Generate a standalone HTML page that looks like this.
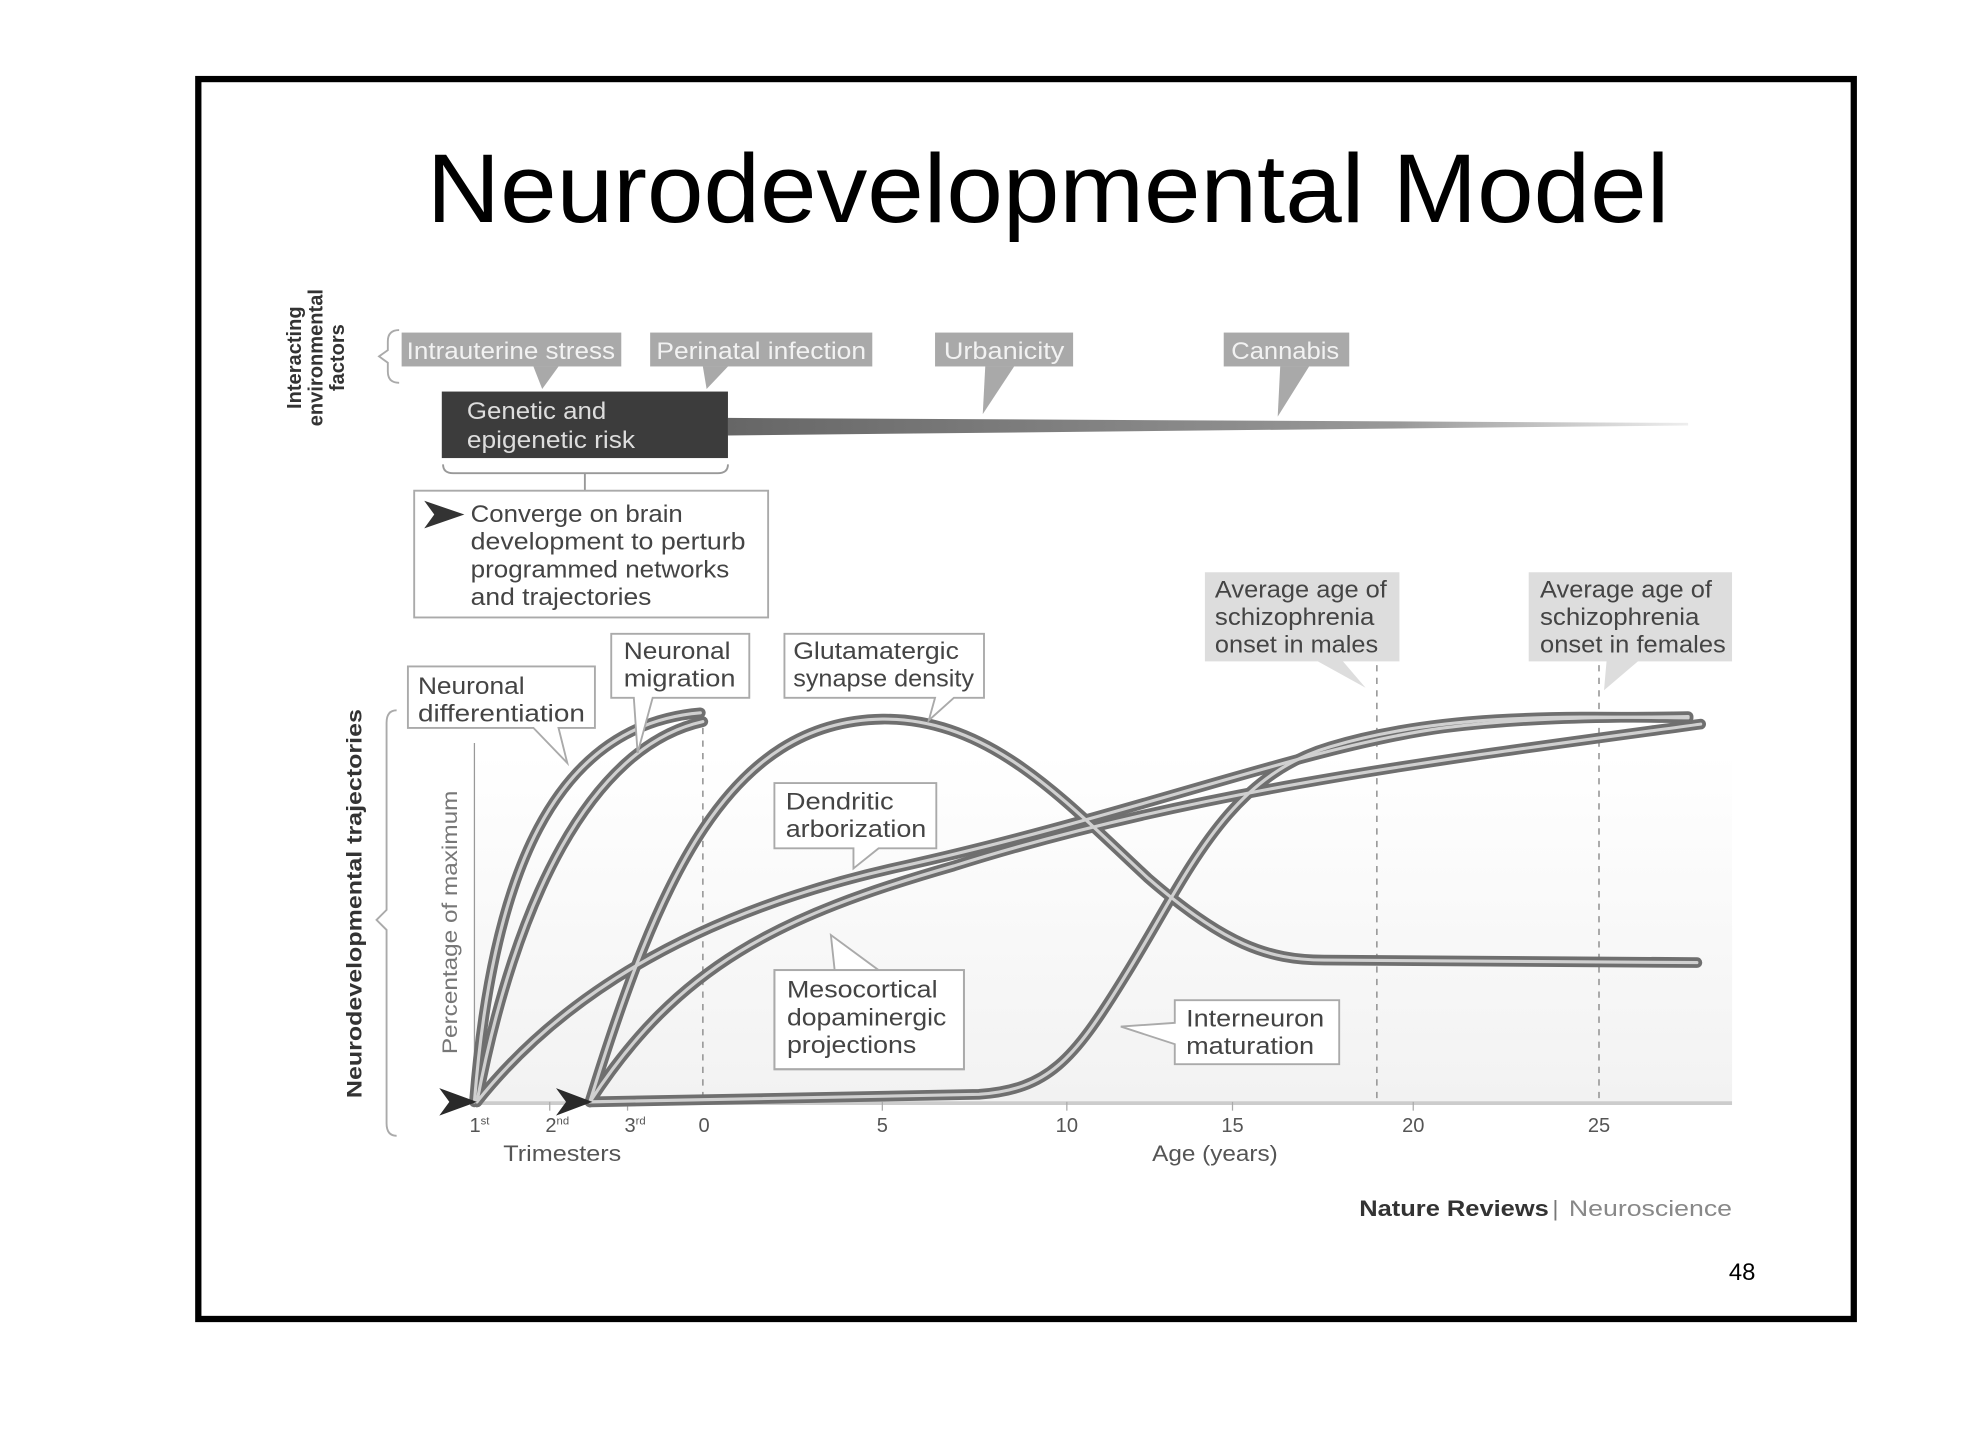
<!DOCTYPE html>
<html><head><meta charset="utf-8"><style>
html,body{margin:0;padding:0;background:#fff;}
svg{display:block;}
text{font-family:"Liberation Sans",sans-serif;}
</style></head><body>
<svg width="1968" height="1447" viewBox="0 0 1568 1153" preserveAspectRatio="none" xmlns="http://www.w3.org/2000/svg">
<defs>
<linearGradient id="bar" x1="0" x2="1" y1="0" y2="0">
<stop offset="0" stop-color="#666"/><stop offset="0.7" stop-color="#999"/><stop offset="1" stop-color="#eee"/>
</linearGradient>
<linearGradient id="bg" x1="0" x2="0" y1="0" y2="1">
<stop offset="0" stop-color="#fff"/><stop offset="1" stop-color="#f2f2f2"/>
</linearGradient>
</defs>
<rect x="0" y="0" width="1568" height="1153" fill="#fff"/>
<rect x="158" y="63" width="1319" height="988" fill="#fff" stroke="#000" stroke-width="5"/>
<text x="835" y="177" font-size="78" text-anchor="middle" textLength="990" lengthAdjust="spacingAndGlyphs" fill="#000">Neurodevelopmental Model</text>

<g transform="translate(248,285) rotate(-90)" font-weight="bold" font-size="16" fill="#333" text-anchor="middle">
<text x="0" y="-8">Interacting</text><text x="0" y="9">environmental</text><text x="0" y="26">factors</text>
</g>
<path d="M318,263 Q309,263 309,272 L309,279 L302,284 L309,289 L309,296 Q309,305 318,305" fill="none" stroke="#aaa" stroke-width="1.5"/>

<g fill="#a9a9a9">
<rect x="320" y="265" width="175" height="27"/><polygon points="425,292 445,292 432,310"/>
<rect x="518" y="265" width="177" height="27"/><polygon points="560,292 580,292 563,310"/>
<rect x="745" y="265" width="110" height="27"/><polygon points="785,292 808,292 783,330"/>
<rect x="975" y="265" width="100" height="27"/><polygon points="1020,292 1043,292 1018,332"/>
</g>
<g fill="#f2f2f2" font-size="19">
<text x="324" y="286" textLength="166" lengthAdjust="spacingAndGlyphs">Intrauterine stress</text>
<text x="523" y="286" textLength="167" lengthAdjust="spacingAndGlyphs">Perinatal infection</text>
<text x="752" y="286" textLength="96" lengthAdjust="spacingAndGlyphs">Urbanicity</text>
<text x="981" y="286" textLength="86" lengthAdjust="spacingAndGlyphs">Cannabis</text>
</g>
<polygon points="580,333 1345,337 1345,339 580,347" fill="url(#bar)"/>
<rect x="352" y="312" width="228" height="53" fill="#3c3c3c"/>
<text x="372" y="334" font-size="19" fill="#ddd" textLength="111" lengthAdjust="spacingAndGlyphs">Genetic and</text>
<text x="372" y="357" font-size="19" fill="#ddd" textLength="134" lengthAdjust="spacingAndGlyphs">epigenetic risk</text>
<path d="M353,370 Q353,377 361,377 L572,377 Q580,377 580,370 M466,377 L466,391" fill="none" stroke="#999" stroke-width="1.5"/>
<rect x="330" y="391" width="282" height="101" fill="#fff" stroke="#aaa" stroke-width="1.5"/>
<polygon points="338,399 370,410 338,421 346,410" fill="#333"/>
<g font-size="19" fill="#444">
<text x="375" y="416" textLength="169" lengthAdjust="spacingAndGlyphs">Converge on brain</text>
<text x="375" y="438" textLength="219" lengthAdjust="spacingAndGlyphs">development to perturb</text>
<text x="375" y="460" textLength="206" lengthAdjust="spacingAndGlyphs">programmed networks</text>
<text x="375" y="482" textLength="144" lengthAdjust="spacingAndGlyphs">and trajectories</text>
</g>

<path d="M378,600 L1380,600 L1380,878 L378,878 Z" fill="url(#bg)"/>
<g transform="translate(282,720) rotate(-90)"><text x="0" y="6" font-size="17" font-weight="bold" fill="#333" text-anchor="middle" textLength="310" lengthAdjust="spacingAndGlyphs">Neurodevelopmental trajectories</text></g>
<path d="M316,566 Q308,566 308,576 L308,725 L300,733 L308,741 L308,895 Q308,905 316,905" fill="none" stroke="#aaa" stroke-width="1.5"/>
<g transform="translate(358,735) rotate(-90)"><text x="0" y="6" font-size="17" fill="#777" text-anchor="middle" textLength="210" lengthAdjust="spacingAndGlyphs">Percentage of maximum</text></g>
<line x1="378" y1="592" x2="378" y2="878" stroke="#999" stroke-width="1"/>
<line x1="375" y1="879" x2="1380" y2="879" stroke="#ccc" stroke-width="3"/>
<g stroke="#999" stroke-width="1.3" stroke-dasharray="5,5">
<line x1="560" y1="570" x2="560" y2="878"/>
<line x1="1097" y1="530" x2="1097" y2="878"/>
<line x1="1274" y1="530" x2="1274" y2="878"/>
</g>
<g stroke="#aaa" stroke-width="1">
<line x1="438" y1="878" x2="438" y2="885"/><line x1="500" y1="878" x2="500" y2="885"/><line x1="703" y1="878" x2="703" y2="885"/><line x1="850" y1="878" x2="850" y2="885"/><line x1="982" y1="878" x2="982" y2="885"/><line x1="1126" y1="878" x2="1126" y2="885"/>
</g>
<g font-size="16" fill="#555" text-anchor="middle">
<text x="382" y="902">1<tspan font-size="9" dy="-6">st</tspan></text>
<text x="444" y="902">2<tspan font-size="9" dy="-6">nd</tspan></text>
<text x="506" y="902">3<tspan font-size="9" dy="-6">rd</tspan></text>
<text x="561" y="902">0</text><text x="703" y="902">5</text><text x="850" y="902">10</text>
<text x="982" y="902">15</text><text x="1126" y="902">20</text><text x="1274" y="902">25</text>
<text x="448" y="925" font-size="18" textLength="94" lengthAdjust="spacingAndGlyphs">Trimesters</text>
<text x="968" y="925" font-size="18" textLength="100" lengthAdjust="spacingAndGlyphs">Age (years)</text>
</g>

<g fill="none" stroke-linecap="round">
<g stroke="#6f6f6f" stroke-width="8.5">
<path id="c1" d="M378,878 C392,700 440,578 558,568"/>
<path id="c2" d="M380,878 C410,720 470,595 560,575"/>
<path id="c3" d="M470,878 C525,700 580,575 703,573 C790,572 850,640 915,700 C975,752 1010,765 1055,765 L1352,767"/>
<path id="c4" d="M380,878 C450,790 560,725 720,690 C900,650 1040,595 1150,580 C1230,570 1300,572 1345,571"/>
<path id="c5" d="M470,878 C540,770 620,730 760,690 C950,630 1150,605 1355,577"/>
<path id="c6" d="M470,878 L780,872 C835,868 855,845 895,780 C945,700 975,620 1060,595 C1150,568 1250,571 1345,572"/>
</g>
<g stroke="#d0d0d0" stroke-width="2.5">
<use href="#c1"/><use href="#c2"/><use href="#c3"/><use href="#c4"/><use href="#c5"/><use href="#c6"/>
</g>
</g>
<polygon points="350,867 380,878 350,889 358,878" fill="#2a2a2a"/>
<polygon points="443,867 472,878 443,889 451,878" fill="#2a2a2a"/>

<g fill="#fff" stroke="#aaa" stroke-width="1.5">
<path d="M325,531 L474,531 L474,580 L445,580 L452,608 L425,580 L325,580 Z"/>
<path d="M487,505 L597,505 L597,556 L520,556 L508,600 L505,556 L487,556 Z"/>
<path d="M625,505 L784,505 L784,556 L760,556 L740,574 L745,556 L625,556 Z"/>
<path d="M617,624 L746,624 L746,676 L700,676 L680,692 L680,676 L617,676 Z"/>
<path d="M617,773 L700,773 L662,745 L665,773 L768,773 L768,852 L617,852 Z" />
<path d="M936,797 L1067,797 L1067,848 L936,848 L936,832 L893,818 L936,815 Z"/>
</g>
<rect x="617" y="773" width="151" height="79" fill="none" stroke="#aaa" stroke-width="1.5"/>
<g fill="#ddd">
<path d="M960,456 L1115,456 L1115,527 L1070,527 L1088,548 L1050,527 L960,527 Z"/>
<path d="M1218,456 L1380,456 L1380,527 L1305,527 L1278,550 L1280,527 L1218,527 Z"/>
</g>
<g font-size="19" fill="#444">
<text x="333" y="553" textLength="85" lengthAdjust="spacingAndGlyphs">Neuronal</text>
<text x="333" y="575" textLength="133" lengthAdjust="spacingAndGlyphs">differentiation</text>
<text x="497" y="525" textLength="85" lengthAdjust="spacingAndGlyphs">Neuronal</text>
<text x="497" y="547" textLength="89" lengthAdjust="spacingAndGlyphs">migration</text>
<text x="632" y="525" textLength="132" lengthAdjust="spacingAndGlyphs">Glutamatergic</text>
<text x="632" y="547" textLength="144" lengthAdjust="spacingAndGlyphs">synapse density</text>
<text x="626" y="645" textLength="86" lengthAdjust="spacingAndGlyphs">Dendritic</text>
<text x="626" y="667" textLength="112" lengthAdjust="spacingAndGlyphs">arborization</text>
<text x="627" y="795" textLength="120" lengthAdjust="spacingAndGlyphs">Mesocortical</text>
<text x="627" y="817" textLength="127" lengthAdjust="spacingAndGlyphs">dopaminergic</text>
<text x="627" y="839" textLength="103" lengthAdjust="spacingAndGlyphs">projections</text>
<text x="945" y="818" textLength="110" lengthAdjust="spacingAndGlyphs">Interneuron</text>
<text x="945" y="840" textLength="102" lengthAdjust="spacingAndGlyphs">maturation</text>
<text x="968" y="476" textLength="137" lengthAdjust="spacingAndGlyphs">Average age of</text>
<text x="968" y="498" textLength="127" lengthAdjust="spacingAndGlyphs">schizophrenia</text>
<text x="968" y="520" textLength="130" lengthAdjust="spacingAndGlyphs">onset in males</text>
<text x="1227" y="476" textLength="137" lengthAdjust="spacingAndGlyphs">Average age of</text>
<text x="1227" y="498" textLength="127" lengthAdjust="spacingAndGlyphs">schizophrenia</text>
<text x="1227" y="520" textLength="148" lengthAdjust="spacingAndGlyphs">onset in females</text>
</g>
<text x="1083" y="969" font-size="18" font-weight="bold" fill="#333" textLength="151" lengthAdjust="spacingAndGlyphs">Nature Reviews</text>
<text x="1237" y="969" font-size="18" fill="#777">|</text>
<text x="1250" y="969" font-size="18" fill="#888" textLength="130" lengthAdjust="spacingAndGlyphs">Neuroscience</text>
<text x="1388" y="1020" font-size="19" fill="#000" text-anchor="middle">48</text>
</svg>
</body></html>
